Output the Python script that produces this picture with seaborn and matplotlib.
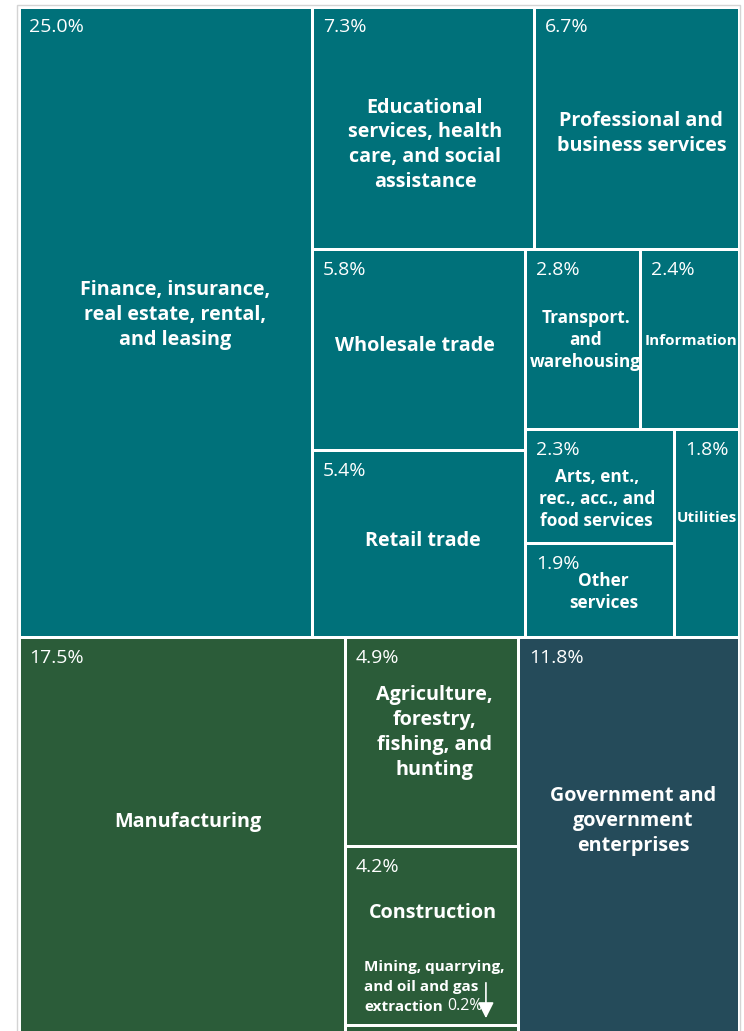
import matplotlib
matplotlib.use("Agg")
import matplotlib.pyplot as plt
import seaborn as sns
from matplotlib.patches import Rectangle
import pandas as pd

# values (share of total, %)
sectors = [
    "Finance, insurance,\nreal estate, rental,\nand leasing",
    "Educational\nservices, health\ncare, and social\nassistance",
    "Professional and\nbusiness services",
    "Wholesale trade",
    "Retail trade",
    "Transport.\nand\nwarehousing",
    "Information",
    "Arts, ent.,\nrec., acc., and\nfood services",
    "Other\nservices",
    "Utilities",
    "Manufacturing",
    "Agriculture,\nforestry,\nfishing, and\nhunting",
    "Construction",
    "Mining, quarrying,\nand oil and gas\nextraction",
    "Government and\ngovernment\nenterprises",
]
shares = [25.0, 7.3, 6.7, 5.8, 5.4, 2.8, 2.4, 2.3, 1.9, 1.8,
          17.5, 4.9, 4.2, 0.2, 11.8]
groups = ["services"] * 10 + ["goods"] * 4 + ["government"]
group_colors = {"services": "#00717a", "goods": "#2b5c39", "government": "#254b5a"}

df = pd.DataFrame({"sector": sectors, "share": shares, "group": groups})

# label styling (size class and small nudges, in pixels)
size_class = {3: "big", 0: "big", 1: "big", 2: "big", 4: "big", 10: "big",
              11: "big", 12: "big", 14: "big", 5: "small", 7: "small",
              8: "small", 6: "tiny", 9: "tiny"}
nudge = {0: (10, -7), 1: (2, 17), 2: (5, 6), 3: (-3, -4), 4: (5, -3),
         5: (3, 1), 6: (2, 2), 7: (-3, 13), 8: (4, 2), 9: (0, -15),
         10: (6, -13), 11: (3, -9), 12: (1, -22), 14: (5, -14)}

W, H = 720.0, 1027.0


def worst(row, w):
    s = sum(row)
    return max(max(w * w * r / (s * s), s * s / (w * w * r)) for r in row)


def squarify(areas, x, y, dx, dy):
    rects = []
    vals = list(areas)
    while vals:
        w = min(dx, dy)
        row = [vals[0]]
        i = 1
        while i < len(vals) and worst(row + [vals[i]], w) <= worst(row, w):
            row.append(vals[i])
            i += 1
        s = sum(row)
        if dx >= dy:
            cw = s / dy
            yy = y
            for r in row:
                rects.append((x, yy, cw, r / cw))
                yy += r / cw
            x += cw
            dx -= cw
        else:
            rh = s / dx
            xx = x
            for r in row:
                rects.append((xx, y, r / rh, rh))
                xx += r / rh
            y += rh
            dy -= rh
        vals = vals[i:]
    return rects


total = df["share"].sum()
gsum = df.groupby("group", sort=False)["share"].sum().sort_values(ascending=False)
group_rects = squarify([v / total * W * H for v in gsum.values], 0, 0, W, H)

cells = {}
for g, (gx, gy, gw, gh) in zip(gsum.index, group_rects):
    sub = df[df["group"] == g].sort_values("share", ascending=False)
    rs = squarify([v / sub["share"].sum() * gw * gh for v in sub["share"]], gx, gy, gw, gh)
    for idx, r in zip(sub.index, rs):
        cells[idx] = r

sns.set_theme(style="white")
plt.rcParams["font.family"] = ["Open Sans", "DejaVu Sans"]

fig = plt.figure(figsize=(7.44, 10.31), dpi=100)
FW, FH = 744.0, 1031.0
left_px, top_px = 18.5, 6.5
ax = fig.add_axes([left_px / FW, (FH - top_px - H) / FH, W / FW, H / FH])
ax.set_xlim(0, W)
ax.set_ylim(H, 0)
ax.axis("off")

# thin grey frame around the visual
fig.add_artist(Rectangle((17 / FW, -0.01), (739.5 - 17) / FW, (FH - 5) / FH + 0.01,
                         transform=fig.transFigure, fill=False,
                         edgecolor="#d4d4d4", linewidth=1.0))

lw = 3 * 72 / 100
fs = {"big": 14.2, "small": 12.4, "tiny": 11}
lsp = {"big": 1.32, "small": 1.27, "tiny": 1.3}

for idx, row in df.iterrows():
    x, y, w, h = cells[idx]
    ax.add_patch(Rectangle((x, y), w, h, facecolor=group_colors[row["group"]],
                           edgecolor="white", linewidth=lw))
    if row["sector"].startswith("Mining"):
        continue
    ax.text(x + 11, y + 26, f"{row['share']:.1f}%", color="white",
            fontsize=14, va="baseline", ha="left")
    cls = size_class[idx]
    dx, dy = nudge.get(idx, (0, 0))
    ax.text(x + w / 2 + dx, y + h / 2 + dy, row["sector"], color="white",
            fontsize=fs[cls], fontweight="bold", ha="center", va="center",
            linespacing=lsp[cls], multialignment="center")

# call-out for the tiny mining cell
mi = df.index[df["sector"].str.startswith("Mining")][0]
mx, my, mw, mh = cells[mi]
lines = df.loc[mi, "sector"].split("\n")
t = None
for k, line in enumerate(lines):
    t = ax.text(mx + 19, my - 54 + 20 * k, line, color="white", fontsize=11,
                fontweight="bold", ha="left", va="baseline")
ax.annotate(f"{df.loc[mi, 'share']:.1f}%", xy=(1, 0), xycoords=t,
            xytext=(3, 0), textcoords="offset points", color="white",
            fontsize=11.5, ha="left", va="bottom")
ax.annotate("", xy=(mx + 141, my - 4), xytext=(mx + 141, my - 45),
            arrowprops=dict(arrowstyle="-|>,head_width=0.4,head_length=0.8",
                            color="white", lw=1.2))

fig.savefig("out.png", dpi=100)
